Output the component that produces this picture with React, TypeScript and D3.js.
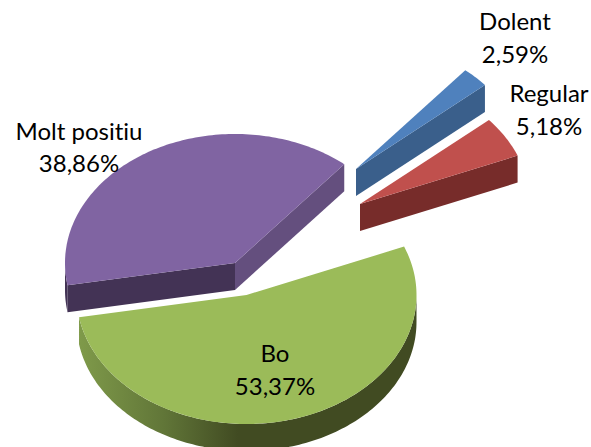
import React from "react";
import * as d3 from "d3";

const categories = ["Dolent", "Regular", "Bo", "Molt positiu"];
const values = [2.59, 5.18, 53.37, 38.86];
const percentLabels = ["2,59%", "5,18%", "53,37%", "38,86%"];

const topColors = ["#4F81BD", "#C0504D", "#9BBB59", "#8064A2"];
const sideColors = ["#3A5F8B", "#772C2A", "#414B22", "#433355"];
const cutColors = ["#3A5F8B", "#772C2A", "#414B22", "#644F7E"];

const W = 591, H = 447;
const RX = 170, RY = 129, DEPTH = 27;
const START = (40 * Math.PI) / 180;
const apexes: [number, number][] = [[356, 169], [360, 204], [246.5, 295], [235, 263]];
const labelPos: [number, number, number][] = [
  [515, 30, 63], [549, 102, 135], [275, 362, 395], [79, 140, 172],
];

const pieGen = d3.pie<number>().sort(null).startAngle(START).endAngle(START + 2 * Math.PI);
const arcs = pieGen(values);
const line = d3.line<[number, number]>();

const pt = (c: [number, number], a: number, dy = 0): [number, number] => [
  c[0] + RX * Math.sin(a),
  c[1] - RY * Math.cos(a) + dy,
];
const samples = (a0: number, a1: number) => {
  const n = Math.max(2, Math.ceil(Math.abs(a1 - a0) / 0.02));
  return d3.range(n + 1).map((i) => a0 + ((a1 - a0) * i) / n);
};
const topPath = (c: [number, number], a0: number, a1: number) =>
  line([c, ...samples(a0, a1).map((a) => pt(c, a))]) + "Z";
const wallPath = (c: [number, number], a0: number, a1: number) =>
  line([
    ...samples(a0, a1).map((a) => pt(c, a)),
    ...samples(a1, a0).map((a) => pt(c, a, DEPTH)),
  ]) + "Z";
const cutPath = (c: [number, number], a: number) =>
  line([c, pt(c, a), pt(c, a, DEPTH), [c[0], c[1] + DEPTH]]) + "Z";

const FRONT_L = Math.PI * 0.5;
const FRONT_R = Math.PI * 1.5;

function Slice({ i }: { i: number }) {
  const d = arcs[i];
  const c = apexes[i];
  const a0 = d.startAngle;
  const a1 = d.endAngle;
  const wall0 = Math.max(a0, FRONT_L);
  const wall1 = Math.min(a1, FRONT_R);
  const isGreen = i === 2;
  const isPurple = i === 3;
  return (
    <g>
      {wall1 > wall0 && (
        <path d={wallPath(c, wall0, wall1)} fill={isGreen ? "url(#greenWall)" : sideColors[i]} />
      )}
      {isPurple && <path d={cutPath(c, a0)} fill={sideColors[i]} />}
      {isPurple && <path d={cutPath(c, a1)} fill={cutColors[i]} />}
      {!isGreen && !isPurple && <path d={cutPath(c, a1)} fill={cutColors[i]} />}
      <path d={topPath(c, a0, a1)} fill={topColors[i]} />
    </g>
  );
}

export default function App() {
  return (
    <svg
      width={W}
      height={H}
      viewBox={`0 0 ${W} ${H}`}
      style={{ position: "absolute", left: 0, top: 0, background: "#fff" }}
    >
      <defs>
        <linearGradient id="greenWall" gradientUnits="userSpaceOnUse" x1={79} x2={417} y1={0} y2={0}>
          <stop offset="0" stopColor="#7F9A4A" />
          <stop offset="0.25" stopColor="#617638" />
          <stop offset="0.47" stopColor="#414B22" />
          <stop offset="1" stopColor="#414B22" />
        </linearGradient>
      </defs>
      {[3, 2, 0, 1].map((i) => (
        <Slice key={categories[i]} i={i} />
      ))}
      <g
        fontFamily="Lato, 'Open Sans', sans-serif"
        fontSize={24}
        fill="#000"
        textAnchor="middle"
        style={{ fontVariantLigatures: "none" }}
      >
        {categories.map((name, i) => (
          <g key={name}>
            <text x={labelPos[i][0]} y={labelPos[i][1]}>{name}</text>
            <text x={labelPos[i][0]} y={labelPos[i][2]}>{percentLabels[i]}</text>
          </g>
        ))}
      </g>
    </svg>
  );
}
